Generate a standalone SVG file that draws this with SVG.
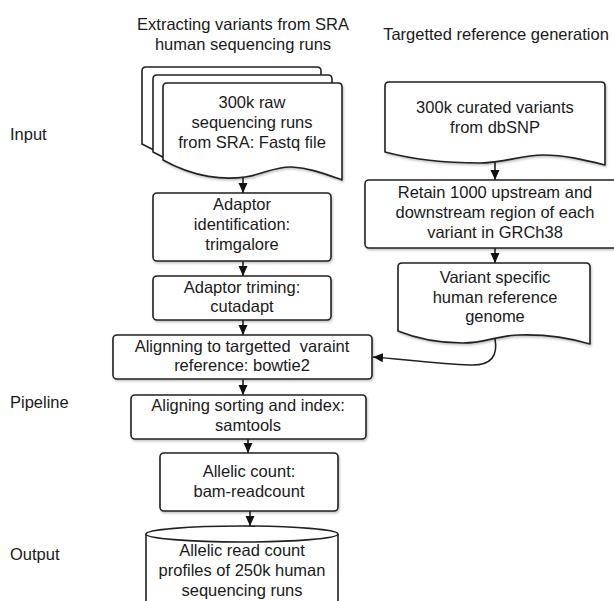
<svg xmlns="http://www.w3.org/2000/svg" width="614" height="601" viewBox="0 0 614 601">
<style>
text{font-family:"Liberation Sans",Arial,sans-serif;font-size:16.5px;fill:#1a1a1a;text-anchor:middle;white-space:pre}
.lbl{text-anchor:start}
.shape{fill:#fff;stroke:#222;stroke-width:1.6;stroke-linejoin:round}
.conn{fill:none;stroke:#222;stroke-width:1.6}
</style>
<defs>
<marker id="ah" markerUnits="userSpaceOnUse" markerWidth="10" markerHeight="10" refX="10" refY="5" orient="auto">
<path d="M0,0.5 L10,5 L0,9.5 Z" fill="#111"/>
</marker>
<filter id="sh" x="-5%" y="-5%" width="115%" height="120%">
<feDropShadow dx="1" dy="1.5" stdDeviation="1" flood-color="#000" flood-opacity="0.25"/>
</filter>
<path id="doc" d="M163,87 Q163,83 167,83 H338 Q342,83 342,87 V180 C325,174 310,168 292,167 C275,166 265,174 245,177 C225,180 195,178 163,160 Z"/>
</defs>

<g id="headers">
<text x="243" y="30">Extracting variants from SRA</text>
<text x="243" y="50">human sequencing runs</text>
<text x="496" y="40">Targetted reference generation</text>
</g>
<g id="stage-labels">
<text class="lbl" x="10" y="140">Input</text>
<text class="lbl" x="10" y="408">Pipeline</text>
<text class="lbl" x="10" y="560">Output</text>
</g>

<g id="connectors">
<line class="conn" x1="243" y1="176" x2="243" y2="193" marker-end="url(#ah)"/>
<line class="conn" x1="243" y1="261" x2="243" y2="276" marker-end="url(#ah)"/>
<line class="conn" x1="243" y1="320" x2="243" y2="335" marker-end="url(#ah)"/>
<line class="conn" x1="243" y1="379" x2="243" y2="395" marker-end="url(#ah)"/>
<line class="conn" x1="248" y1="439" x2="248" y2="453" marker-end="url(#ah)"/>
<line class="conn" x1="250" y1="511" x2="250" y2="526" marker-end="url(#ah)"/>
<line class="conn" x1="495" y1="162" x2="495" y2="180" marker-end="url(#ah)"/>
<line class="conn" x1="495" y1="248" x2="495" y2="263" marker-end="url(#ah)"/>
<path class="conn" d="M495,339 C498,355 492,366 470,365 C440,364 400,359 373,357" marker-end="url(#ah)"/>
</g>

<g id="raw-runs">
<use href="#doc" class="shape" transform="translate(-21,-16)"/>
<use href="#doc" class="shape" transform="translate(-10,-8)"/>
<use href="#doc" class="shape" filter="url(#sh)"/>
<text x="252" y="108">300k raw</text>
<text x="252" y="128">sequencing runs</text>
<text x="252" y="148">from SRA: Fastq file</text>
</g>

<g id="curated-variants">
<path class="shape" filter="url(#sh)" d="M385,86 Q385,82 389,82 H601 Q605,82 605,86 V165 C585,160 565,155 543,155 C520,155 505,163 480,163 C450,163 415,160 385,152 Z"/>
<text x="495" y="113">300k curated variants</text>
<text x="495" y="133">from dbSNP</text>
</g>

<g id="retain-region">
<rect class="shape" filter="url(#sh)" x="365" y="180" width="260" height="68" rx="4"/>
<text x="495" y="198">Retain 1000 upstream and</text>
<text x="495" y="218">downstream region of each</text>
<text x="495" y="238">variant in GRCh38</text>
</g>

<g id="variant-reference">
<path class="shape" filter="url(#sh)" d="M398,267 Q398,263 402,263 H586 Q590,263 590,267 V344 C570,338 545,334 518,335 C495,336 485,343 463,343 C440,343 420,340 398,331 Z"/>
<text x="495" y="283">Variant specific</text>
<text x="495" y="303">human reference</text>
<text x="495" y="322">genome</text>
</g>

<g id="adaptor-identification">
<rect class="shape" filter="url(#sh)" x="153" y="193" width="178" height="68" rx="4"/>
<text x="242" y="210">Adaptor</text>
<text x="242" y="230">identification:</text>
<text x="242" y="250">trimgalore</text>
</g>

<g id="adaptor-trimming">
<rect class="shape" filter="url(#sh)" x="153" y="276" width="178" height="44" rx="4"/>
<text x="242" y="293">Adaptor triming:</text>
<text x="242" y="312">cutadapt</text>
</g>

<g id="align-bowtie2">
<rect class="shape" filter="url(#sh)" x="113" y="335" width="259" height="44" rx="4"/>
<text x="242" y="352">Alignning to targetted  varaint</text>
<text x="242" y="371">reference: bowtie2</text>
</g>

<g id="samtools">
<rect class="shape" filter="url(#sh)" x="131" y="395" width="235" height="44" rx="4"/>
<text x="248" y="411">Aligning sorting and index:</text>
<text x="248" y="431">samtools</text>
</g>

<g id="bam-readcount">
<rect class="shape" filter="url(#sh)" x="160" y="453" width="178" height="58" rx="4"/>
<text x="249" y="477">Allelic count:</text>
<text x="249" y="497">bam-readcount</text>
</g>

<g id="output-profiles">
<path class="shape" d="M146,534 V610 H338 V534"/>
<ellipse class="shape" cx="242" cy="534" rx="96" ry="8"/>
<text x="242" y="556">Allelic read count</text>
<text x="242" y="576">profiles of 250k human</text>
<text x="242" y="596">sequencing runs</text>
</g>
</svg>
